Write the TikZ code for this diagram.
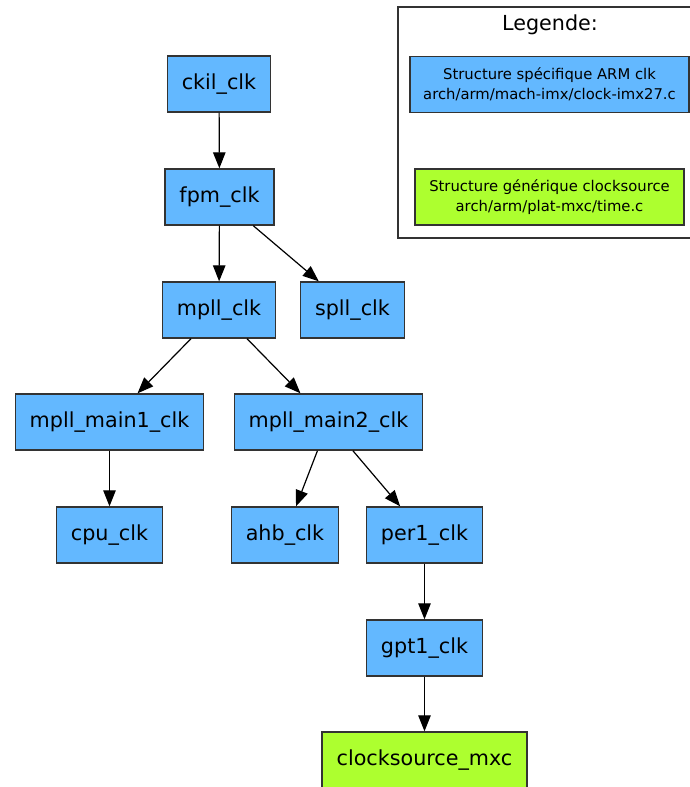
\documentclass[tikz,border=0pt]{standalone}
\usepackage{fontspec}
\setmainfont{DejaVu Sans}
\usetikzlibrary{arrows.meta}

\definecolor{clkblue}{HTML}{63B8FF}
\definecolor{srcgreen}{HTML}{ADFF2F}

\begin{document}
\begin{tikzpicture}[x=1pt,y=-1pt,
    clkbox/.style={shape=rectangle,draw=black!80,line width=1.4pt,fill=clkblue,
        minimum height=56pt,inner xsep=14.5pt,font=\fontsize{20.7}{24}\selectfont},
    srcbox/.style={clkbox,fill=srcgreen},
    legbox/.style={shape=rectangle,draw=black!80,line width=1.4pt,align=center,
        inner xsep=13pt,minimum height=56pt,font=\fontsize{14.8}{20}\selectfont},
    >={Triangle[length=16pt,width=12.5pt]}]
    \useasboundingbox (0,0) rectangle (690,787);

    % legend
    \draw[draw=black!80,line width=1.4pt,fill=white] (398,7) rectangle (694,238);
    \node[font=\fontsize{20.7}{24}\selectfont] (LEG) at (550,25) {Legende:};
    \node[legbox,fill=clkblue,minimum width=279pt] (LARM) at (549.5,84.5) {Structure spécifique ARM clk\\arch/arm/mach-imx/clock-imx27.c};
    \node[legbox,fill=srcgreen,minimum width=269pt] (LSRC) at (549.5,197) {Structure générique clocksource\\arch/arm/plat-mxc/time.c};

    % clock tree
    \node[clkbox] (CKIL) at (219,84) {ckil\_clk};
    \node[clkbox] (FPM) at (219.5,197) {fpm\_clk};
    \node[clkbox] (MPLL) at (219,310) {mpll\_clk};
    \node[clkbox] (SPLL) at (352.5,310) {spll\_clk};
    \node[clkbox] (MAIN1) at (109.5,422) {mpll\_main1\_clk};
    \node[clkbox] (MAIN2) at (328.5,422) {mpll\_main2\_clk};
    \node[clkbox] (CPU) at (109.5,535) {cpu\_clk};
    \node[clkbox] (AHB) at (285,535) {ahb\_clk};
    \node[clkbox] (PER1) at (424.5,535) {per1\_clk};
    \node[clkbox] (GPT1) at (424.5,648) {gpt1\_clk};
    \node[srcbox] (MXC) at (424.5,760) {clocksource\_mxc};

    \path [->,line width=1.2pt](CKIL) edge (FPM);
    \path [->,line width=1.2pt](FPM) edge (MPLL);
    \path [->,line width=1.2pt](FPM) edge (SPLL);
    \path [->,line width=1.2pt](MPLL) edge (MAIN1);
    \path [->,line width=1.2pt](MPLL) edge (MAIN2);
    \path [->,line width=1.2pt](MAIN1) edge (CPU);
    \path [->,line width=1.2pt](MAIN2) edge (AHB);
    \path [->,line width=1.2pt](MAIN2) edge (PER1);
    \path [->,line width=1.2pt](PER1) edge (GPT1);
    \path [->,line width=1.2pt](GPT1) edge (MXC);
\end{tikzpicture}
\end{document}
